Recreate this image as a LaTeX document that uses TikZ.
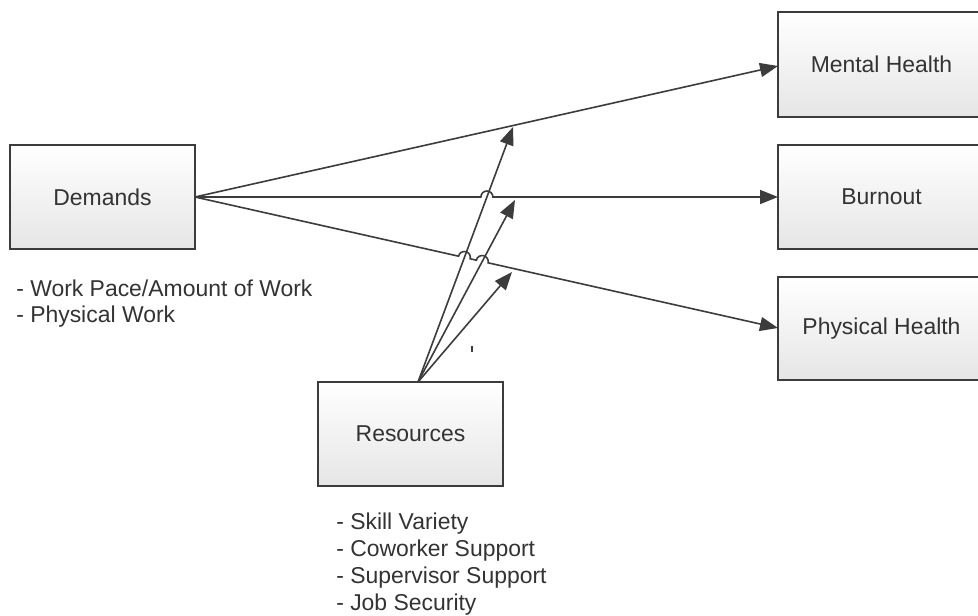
\documentclass[tikz,border=0pt]{standalone}
\usepackage{fontspec}
\setmainfont{Liberation Sans}
\usetikzlibrary{arrows.meta,calc}
\definecolor{edgegray}{HTML}{3C3C3C}
\definecolor{txtgray}{HTML}{333333}
\tikzset{
  box/.style={draw=edgegray, line width=1.2pt, top color=white, bottom color=black!10,
    minimum width=138.75pt, minimum height=78pt, inner sep=0pt,
    font=\fontsize{17.2}{20}\selectfont, text=txtgray},
  listtxt/.style={inner sep=0pt, font=\fontsize{17.2}{20}\selectfont, text=txtgray, anchor=base west},
  conn/.style={draw=edgegray, line width=1.2pt},
  arr/.style={conn, -{Triangle[length=13.5pt,width=10.5pt]}},
}
\begin{document}
\begin{tikzpicture}[x=0.75pt,y=-0.75pt]
\clip (0,0) rectangle (978,616);
\fill[white] (0,0) rectangle (978,616);
% boxes
\node[box] (D) at (102.5,197) {Demands};
\node[box, minimum width=155.25pt, minimum height=78.75pt] (MH) at (881.5,64.5) {Mental Health};
\node[box, minimum width=155.25pt] (B) at (881.5,197) {Burnout};
\node[box, minimum width=155.25pt, minimum height=77.25pt] (PH) at (881.5,328.5) {Physical Health};
\node[box] (R) at (410.5,434) {Resources};
% lists
\node[listtxt] (d1) at (16,297) {- Work Pace/Amount of Work};
\node[listtxt] (d2) at (16,323) {- Physical Work};
\node[listtxt] (r1) at (336,529) {- Skill Variety};
\node[listtxt] (r2) at (336,556) {- Coworker Support};
\node[listtxt] (r3) at (336,583) {- Supervisor Support};
\node[listtxt] (r4) at (336,610) {- Job Security};
% coordinates
\coordinate (de) at (195,197);
\coordinate (rs) at (418,382);
\coordinate (t1) at (513,127);
\coordinate (t2) at (515,200);
\coordinate (t3) at (512,272);
\coordinate (mh) at (778,66);
\coordinate (bo) at (778,197);
\coordinate (ph) at (778,328);
\coordinate (hB) at (486.9,197);
\coordinate (hP1) at (464.4,257.5);
\coordinate (hP2) at (482.2,261.5);
% demands arrows
\draw[arr] (de) -- (mh);
\draw[arr] (de) -- ($(hB)!4.5pt!(de)$) arc[start angle=180, end angle=0, radius=4.5pt] -- (bo);
\draw[arr] (de) -- ($(hP1)!4.5pt!(de)$) arc[start angle=167.34, end angle=-12.66, radius=4.5pt]
  -- ($(hP2)!4.5pt!(de)$) arc[start angle=167.34, end angle=-12.66, radius=4.5pt] -- (ph);
% resources arrows
\draw[arr] (rs) -- (t1);
\draw[arr] (rs) -- (t2);
\draw[arr] (rs) -- (t3);
% stray mark
\draw[edgegray, line width=1.5pt] (472,346) -- (472,352);
\end{tikzpicture}
\end{document}
